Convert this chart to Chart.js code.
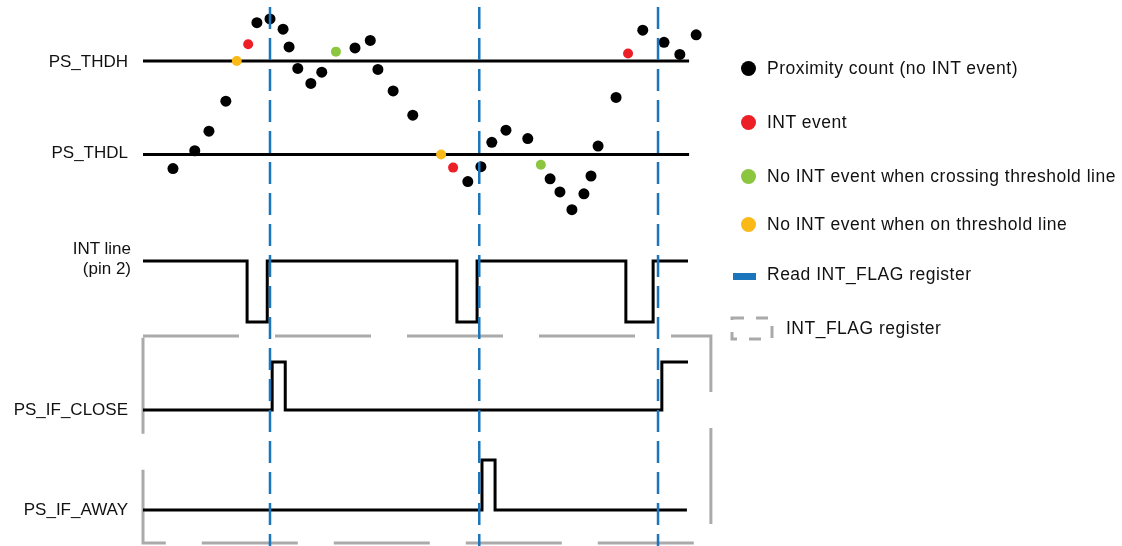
<!DOCTYPE html>
<html>
<head>
<meta charset="utf-8">
<script src="https://cdn.jsdelivr.net/npm/chart.js@4.4.1/dist/chart.umd.min.js"></script>
<style>
  body { margin: 0; background: #fff; }
  #wrap { position: relative; width: 1122px; height: 546px; font-family: "Liberation Sans", Arial, sans-serif; color: #111; }
  #wrap canvas { position: absolute; left: 0; top: 0; }
  .lbl { position: absolute; left: 0; width: 128px; text-align: right; line-height: 20px; white-space: nowrap; font-size: 17px; }
  .leg { position: absolute; line-height: 20px; white-space: nowrap; font-size: 17.5px; letter-spacing: 0.5px; }
  .dot { position: absolute; width: 15px; height: 15px; border-radius: 50%; }
</style>
</head>
<body>
<div id="wrap">
  <canvas id="timing" width="1122" height="546"></canvas>
</div>
<script>
// proximity samples (time, count, kind)
const sampleTime = [5.5, 9.5, 12.1, 15.2, 17.2, 19.3, 20.9, 23.3, 25.7, 26.8, 28.4, 30.8, 32.8, 35.4, 38.9, 41.7, 43.1, 45.9, 49.5,
                    54.7, 56.9, 59.6, 62.0, 64.0, 66.6, 70.6, 73.0, 74.7, 76.5, 78.7, 80.9, 82.2, 83.5, 86.8, 89.0, 91.7, 95.6, 98.5, 101.5];
const sampleCount = [85, 104, 125, 157, 200, 218, 241, 245, 234, 215, 192, 176, 188, 210, 214, 222, 191, 168, 142,
                     100, 86, 71, 87, 113, 126, 117, 89, 74, 60, 41, 58, 77, 109, 161, 208, 233, 220, 207, 228];
// n = no INT, int = INT event, cross = crossing w/o INT, on = on threshold
const sampleKind = ['n', 'n', 'n', 'n', 'on', 'int', 'n', 'n', 'n', 'n', 'n', 'n', 'n', 'cross', 'n', 'n', 'n', 'n', 'n',
                    'on', 'int', 'n', 'n', 'n', 'n', 'n', 'cross', 'n', 'n', 'n', 'n', 'n', 'n', 'n', 'int', 'n', 'n', 'n', 'n'];

const PS_THDH = 200;
const PS_THDL = 100;
const thresholdEnd = 100.2;

// digital lines: level changes at each time (step before)
const intTime = [0, 19.1, 22.8, 57.6, 61.3, 88.6, 93.6, 100];
const intLevel = [1, 0, 1, 0, 1, 0, 1, 1];
const closeTime = [0, 23.7, 26.1, 95.2, 100];
const closeLevel = [0, 1, 0, 1, 1];
const awayTime = [0, 62.2, 64.6, 99.8];
const awayLevel = [0, 1, 0, 0];

// times at which INT_FLAG is read
const readTime = [23.3, 61.7, 94.5];

const laneLabels = ['PS_THDH', 'PS_THDL', 'INT line<br>(pin 2)', 'PS_IF_CLOSE', 'PS_IF_AWAY'];
const legendLabels = ['Proximity count (no INT event)', 'INT event', 'No INT event when crossing threshold line',
                      'No INT event when on threshold line', 'Read INT_FLAG register', 'INT_FLAG register'];

const H = 546, W = 1122;
const COLORS = { n: '#000000', int: '#ec1f27', cross: '#8cc63f', on: '#fbb917', read: '#1b75bc', box: '#aaaaaa' };

// hidden scale that puts value a at pixel pa and value b at pixel pb
function yScale(a, pa, b, pb) {
    const per = (pb - pa) / (a - b);
    return { display: false, min: a - (H - pa) / per, max: a + pa / per };
}
const xPer = 5.45, xLeft = 143;

const pts = (xs, ys) => xs.map((x, i) => ({ x, y: ys[i] }));
const line = (data, axis, extra) => Object.assign({
    data, yAxisID: axis, showLine: true, pointRadius: 0, borderColor: '#000', borderWidth: 3,
    borderJoinStyle: 'miter', borderCapStyle: 'butt', order: 2
}, extra || {});

const datasets = [];

readTime.forEach(t => datasets.push(line([{ x: t, y: 7 / H }, { x: t, y: 1 }], 'yFull',
    { borderColor: COLORS.read, borderWidth: 2.5, borderDash: [22, 9], order: 0 })));

['n', 'int', 'cross', 'on'].forEach(kind => {
    const idx = sampleKind.map((k, i) => k === kind ? i : -1).filter(i => i >= 0);
    datasets.push({
        data: idx.map(i => ({ x: sampleTime[i], y: sampleCount[i] })),
        yAxisID: 'yCount',
        pointRadius: kind === 'n' ? 5.5 : 5,
        pointBackgroundColor: COLORS[kind],
        pointBorderWidth: 0,
        order: 1
    });
});

datasets.push(line(pts([0, thresholdEnd], [PS_THDH, PS_THDH]), 'yCount'));
datasets.push(line(pts([0, thresholdEnd], [PS_THDL, PS_THDL]), 'yCount'));
datasets.push(line(pts(intTime, intLevel), 'yInt', { stepped: true }));
datasets.push(line(pts(closeTime, closeLevel), 'yClose', { stepped: true }));
datasets.push(line(pts(awayTime, awayLevel), 'yAway', { stepped: true }));

// INT_FLAG register frame
const boxT = [0, 104.2, 104.2, 0, 0];
const boxY = [336, 336, 543, 543, 336].map(v => v / H);
datasets.push(line(pts(boxT, boxY), 'yFull', { borderColor: COLORS.box, borderDash: [96, 36], order: 3 }));

new Chart(document.getElementById('timing'), {
    type: 'scatter',
    data: { datasets },
    options: {
        responsive: false,
        animation: false,
        events: [],
        layout: { padding: 0, autoPadding: false },
        plugins: { legend: { display: false }, tooltip: { enabled: false } },
        scales: {
            x: { type: 'linear', display: false, min: -xLeft / xPer, max: (W - xLeft) / xPer },
            yCount: yScale(PS_THDH, 61, PS_THDL, 154.5),
            yInt: yScale(1, 261, 0, 322),
            yClose: yScale(1, 362, 0, 410),
            yAway: yScale(1, 460, 0, 510),
            yFull: { display: false, min: 0, max: 1, reverse: true }
        }
    }
});

// lane labels and legend
const wrap = document.getElementById('wrap');
const laneCenter = [62, 153, 259, 410, 510];
laneLabels.forEach((txt, i) => {
    const d = document.createElement('div');
    d.className = 'lbl';
    d.innerHTML = txt;
    const lines = txt.split('<br>').length;
    d.style.top = (laneCenter[i] - 10 * lines) + 'px';
    if (lines > 1) d.style.width = '131px';
    wrap.appendChild(d);
});

const legendY = [68, 122, 176, 224, 274, 328];
const legendMark = ['n', 'int', 'cross', 'on', 'read', 'box'];
legendLabels.forEach((txt, i) => {
    const kind = legendMark[i];
    const t = document.createElement('div');
    t.className = 'leg';
    t.textContent = txt;
    t.style.left = (kind === 'box' ? 786 : 767) + 'px';
    t.style.top = (legendY[i] - 10) + 'px';
    wrap.appendChild(t);
    if (kind === 'read') {
        const b = document.createElement('div');
        b.style.cssText = `position:absolute;left:733px;top:${legendY[i] - 1}px;width:23px;height:7px;background:${COLORS.read}`;
        wrap.appendChild(b);
    } else if (kind === 'box') {
        const s = document.createElementNS('http://www.w3.org/2000/svg', 'svg');
        s.setAttribute('width', 44);
        s.setAttribute('height', 26);
        s.style.cssText = `position:absolute;left:730px;top:${legendY[i] - 12}px`;
        s.innerHTML = `<rect x="2" y="2" width="40" height="21" fill="none" stroke="${COLORS.box}" stroke-width="3" stroke-dasharray="12 12"/>`;
        wrap.appendChild(s);
    } else {
        const d = document.createElement('div');
        d.className = 'dot';
        d.style.left = '741px';
        d.style.top = (legendY[i] - 7.5) + 'px';
        d.style.background = COLORS[kind];
        wrap.appendChild(d);
    }
});
</script>
</body>
</html>
